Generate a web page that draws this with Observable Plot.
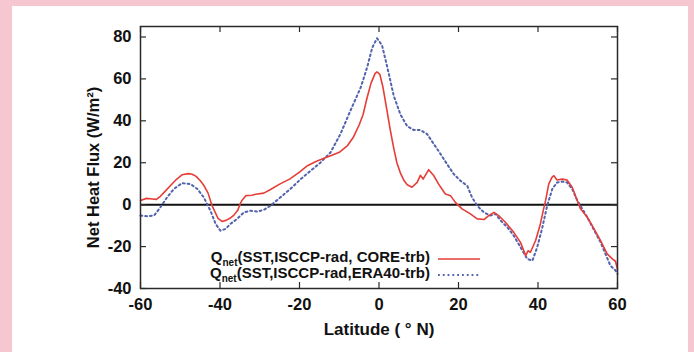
<!DOCTYPE html>
<html>
<head>
<meta charset="utf-8">
<script src="https://cdn.jsdelivr.net/npm/d3@7"></script>
<script src="https://cdn.jsdelivr.net/npm/@observablehq/plot@0.6"></script>
<style>
  html, body { margin: 0; padding: 0; }
  body { width: 694px; height: 352px; background: #f6c7d1; position: relative; overflow: hidden;
         font-family: "Liberation Sans", Arial, Helvetica, sans-serif; }
  #panel { position: absolute; left: 12px; top: 6px; width: 676px; height: 346px; background: #fff; }
  #chart { position: absolute; left: 0; top: 0; }
  .leg { position: absolute; font-weight: bold; font-size: 15px; line-height: 15px; color: #111; white-space: nowrap; text-align: right; }
  .leg .sub { font-size: 10px; position: relative; top: 4px; }
  .sample { position: absolute; }
</style>
</head>
<body>
<div id="panel"></div>
<div id="chart"></div>
<script>
// Series 1: Qnet(SST, ISCCP-rad, CORE-trb)
const coreLat = [-60, -58.5, -57, -56, -55, -54, -52.5, -51, -49.5, -48, -47, -46, -45, -44, -43, -42, -41, -40.5, -39.5, -38.5, -37.5, -36.5, -35.5, -35, -34.5, -33.5, -32, -31, -29, -27.5, -25, -22.5, -20, -18, -16, -14, -12, -10, -8, -6.5, -5, -4, -3, -2, -1, -0.5, 0.2, 1, 2, 2.8, 3.7, 4.5, 5.4, 6.3, 7.1, 8.3, 9.6, 10.4, 11.1, 12.5, 13.8, 15, 16, 16.7, 18, 19.2, 20.9, 23, 24.7, 26.4, 27.6, 28.9, 30.1, 31.8, 33.9, 35.6, 36.9, 37.5, 38.1, 39.4, 40.6, 41.3, 41.9, 42.7, 43.5, 44, 44.8, 46.1, 47.3, 48.6, 49.9, 50.7, 52.4, 54.1, 55.7, 57.4, 58.7, 59.5, 60];
const coreNet = [2, 3, 2.7, 2.5, 4, 6, 9, 12, 14.3, 14.8, 14.5, 13.5, 11.5, 9, 5.5, -0.5, -4.5, -6.5, -8, -7.5, -6.5, -5, -2.5, 0, 2, 4.3, 4.5, 5, 5.5, 7, 9.8, 12.2, 15.5, 18.6, 20.5, 22, 23.5, 25, 28, 32, 38, 43, 51, 58, 62.5, 63.3, 62.2, 56, 45, 36, 27, 20, 15, 11.5, 9.5, 8.3, 10.6, 14, 12.2, 16.7, 13.8, 9.8, 7, 5.1, 4.3, 1.1, -2, -4.4, -6.8, -7.1, -5.2, -3.7, -5.2, -8.4, -13.2, -18, -24.3, -22, -22.7, -17.1, -9.2, -3, 1.9, 9.8, 13, 13.8, 11.8, 12.2, 11.8, 8.3, 1.9, -2, -6, -11.6, -17, -23.5, -25.9, -27, -31];

// Series 2: Qnet(SST, ISCCP-rad, ERA40-trb)
const eraLat = [-60, -58, -56.5, -55, -53.3, -51.6, -49.5, -47.4, -45.7, -44.1, -42.4, -41.1, -39.9, -38.6, -37.4, -35.7, -34, -32.3, -30.6, -29, -27.3, -24.8, -22.3, -19.7, -17.2, -14.7, -12.2, -9.7, -7.2, -4.6, -3, -1.7, -0.5, 0.3, 0.8, 2.1, 3.7, 5.4, 7.1, 8.8, 10.4, 12.1, 13.8, 15.5, 17.1, 18.8, 20.5, 22.2, 23.4, 24.7, 26.4, 28, 29.3, 30.6, 32.3, 33.9, 35.6, 37.3, 38.6, 39.8, 41.1, 42.3, 43.6, 44.8, 46.1, 47.3, 48.6, 49.9, 52.4, 55.7, 58.2, 59.5, 60];
const eraNet = [-5.2, -5.6, -5, -1.3, 3.5, 7.5, 10.3, 9.8, 7.5, 3.5, -2.9, -9.2, -12.4, -11.6, -9.2, -6.8, -3.7, -2.9, -3.3, -2.5, -0.5, 3.5, 7.5, 12.2, 16.2, 20.1, 24.9, 33.7, 44.8, 55.9, 65.4, 74.9, 79.4, 77.3, 75.7, 65.5, 52, 43, 37.4, 35.6, 35.6, 33.7, 28.9, 24.1, 19.4, 14.6, 11.4, 9, 3.5, -0.5, -3.7, -5.2, -4.4, -7.6, -10.8, -14.8, -20.3, -25.9, -26.7, -20.3, -10.8, -0.5, 7.5, 10.6, 11, 10.6, 7.5, 1.9, -6, -17.8, -29, -31.4, -33];

const xTicks = [-60, -40, -20, 0, 20, 40, 60];
const yTicks = [-40, -20, 0, 20, 40, 60, 80];
const seriesNames = ["CORE-trb", "ERA40-trb"];

const core = coreLat.map((lat, i) => ({lat, v: coreNet[i]}));
const era = eraLat.map((lat, i) => ({lat, v: eraNet[i]}));

const W = 694, H = 352;
const mL = 140, mR = 77, mT = 26, mB = 64;
const fw = W - mL - mR, fh = H - mT - mB;
const RED = "#e63d38", BLUE = "#5262ad", AX = "#2a2a2a";
const FONT = "Liberation Sans, Arial, Helvetica, sans-serif";
const DOTS = "1.8,3";

const chart = Plot.plot({
  width: W, height: H,
  marginLeft: mL, marginRight: mR, marginTop: mT, marginBottom: mB,
  style: {background: "transparent", fontFamily: FONT, color: "#111"},
  x: {domain: [-60, 60]},
  y: {domain: [-40, 85]},
  marks: [
    Plot.ruleY([0], {stroke: "#111", strokeWidth: 2}),
    Plot.line(era, {x: "lat", y: "v", stroke: BLUE, strokeWidth: 2, strokeDasharray: DOTS}),
    Plot.line(core, {x: "lat", y: "v", stroke: RED, strokeWidth: 1.6}),
    Plot.frame({stroke: AX, strokeWidth: 1.5}),
    Plot.tickX(xTicks, {x: d => d, insetTop: fh - 6, stroke: AX, strokeWidth: 1.2}),
    Plot.tickX(xTicks, {x: d => d, insetBottom: fh - 6, stroke: AX, strokeWidth: 1.2}),
    Plot.tickY(yTicks, {y: d => d, insetRight: fw - 6, stroke: AX, strokeWidth: 1.2}),
    Plot.tickY(yTicks, {y: d => d, insetLeft: fw - 6, stroke: AX, strokeWidth: 1.2}),
    Plot.axisX({ticks: xTicks, tickFormat: d => String(d), tickSize: 0, tickPadding: 10, fontSize: 16.5, fontWeight: "bold", label: null}),
    Plot.axisY({ticks: yTicks, tickFormat: d => String(d), tickSize: 0, tickPadding: 9, fontSize: 16.5, fontWeight: "bold", label: null}),
    Plot.text(["Net Heat Flux (W/m²)"], {frameAnchor: "left", textAnchor: "middle", dx: -47, dy: 10, rotate: -90, fontSize: 16.5, fontWeight: "bold", fill: "#111"}),
    Plot.text(["Latitude ( ° N)"], {frameAnchor: "bottom", lineAnchor: "bottom", dy: 46, fontSize: 17, fontWeight: "bold", fill: "#111"})
  ]
});
document.getElementById("chart").appendChild(chart);

// Legend (gnuplot-style key inside the frame, bottom)
const legendRows = [
  {name: seriesNames[0], color: RED, dash: null, top: 249, lineY: 259},
  {name: seriesNames[1], color: BLUE, dash: DOTS, top: 265, lineY: 275}
];
legendRows.forEach((r, i) => {
  const t = document.createElement("div");
  t.className = "leg";
  t.style.right = (W - 430) + "px";
  t.style.top = r.top + "px";
  t.innerHTML = i === 0
    ? 'Q<span class="sub">net</span>(SST,ISCCP-rad, ' + r.name + ')'
    : 'Q<span class="sub">net</span>(SST,ISCCP-rad,' + r.name + ')';
  document.body.appendChild(t);
  const s = d3.select(document.body).append("svg")
    .attr("class", "sample")
    .attr("width", 50).attr("height", 6)
    .style("left", "436px").style("top", (r.lineY - 3) + "px");
  s.append("line").attr("x1", 2).attr("x2", 44).attr("y1", 3).attr("y2", 3)
    .attr("stroke", r.color).attr("stroke-width", r.dash ? 2 : 1.6)
    .attr("stroke-dasharray", r.dash);
});
</script>
</body>
</html>
